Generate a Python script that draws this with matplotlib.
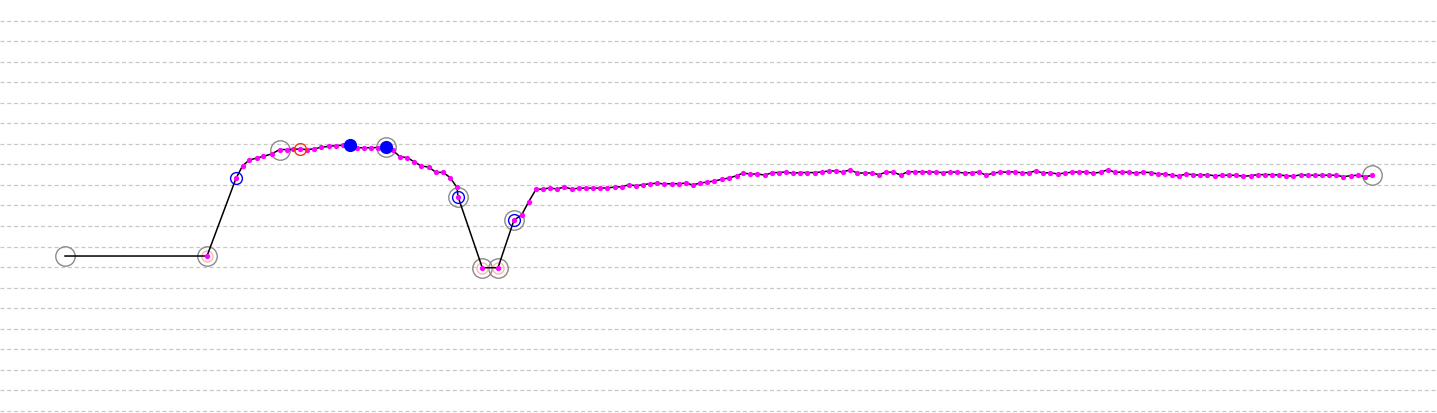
import numpy as np
import matplotlib
matplotlib.use("Agg")
import matplotlib.pyplot as plt

# distance along track and value (grid units)
dist = [65, 207, 236, 242.7, 249.3, 256.7, 263.3, 271.7, 279.5, 286.7,
        293.3, 299.5, 307.3, 314.3, 321.3, 328.7, 336, 343, 350, 357.3,
        364.3, 371.3, 378.3, 385.5, 392.7, 400, 407.3, 414, 421.3, 428.7,
        436, 443.3, 450, 457, 458, 482.3, 498, 514, 521.7, 528.5,
        536, 542.7, 550, 557, 564.3, 571.7, 579, 586, 593.3, 600,
        607.3, 614.7, 621.7, 629, 636, 643.3, 650, 657, 664.3, 671.7,
        679, 686, 692.7, 700, 707.3, 714.3, 721.7, 729.3, 736.7, 743.3,
        750, 757.3, 765, 772.3, 779, 785.7, 792.7, 800, 807.3, 814.7,
        822, 829, 836, 842.7, 850, 857.3, 864.7, 872, 878.7, 886,
        893.3, 900.7, 907.7, 915, 922, 929, 936, 942.7, 950, 957.3,
        964.7, 972, 979, 986, 993.3, 1000.3, 1007.7, 1015, 1022.3, 1029,
        1035.7, 1043, 1050.3, 1057.7, 1065, 1072, 1079, 1086, 1093.3, 1100.7,
        1108, 1114.7, 1122, 1129, 1136, 1143.3, 1150.7, 1158, 1165, 1172,
        1179, 1186, 1193.3, 1200.3, 1207.3, 1215, 1222, 1229, 1236, 1243.3,
        1250.7, 1257.7, 1264.7, 1272, 1279, 1286.3, 1293.3, 1300.7, 1307.7, 1314.7,
        1321.7, 1329, 1336.3, 1343.3, 1350.7, 1357.7, 1365, 1372]
value = [7.54, 7.54, 11.32, 11.94, 12.21, 12.31, 12.39, 12.51, 12.72, 12.72,
         12.73, 12.75, 12.72, 12.76, 12.83, 12.88, 12.91, 12.93, 12.94, 12.81,
         12.81, 12.81, 12.82, 12.85, 12.69, 12.37, 12.33, 12.13, 11.92, 11.87,
         11.61, 11.61, 11.36, 10.88, 10.43, 6.97, 6.97, 9.29, 9.54, 10.17,
         10.78, 10.80, 10.85, 10.80, 10.90, 10.80, 10.84, 10.85, 10.84, 10.85,
         10.85, 10.90, 10.91, 11.01, 10.96, 11.01, 11.06, 11.08, 11.05, 11.06,
         11.06, 11.09, 11.00, 11.09, 11.14, 11.19, 11.27, 11.34, 11.45, 11.58,
         11.53, 11.53, 11.48, 11.60, 11.60, 11.63, 11.57, 11.60, 11.60, 11.60,
         11.63, 11.68, 11.68, 11.63, 11.73, 11.58, 11.58, 11.58, 11.50, 11.62,
         11.62, 11.48, 11.64, 11.64, 11.63, 11.63, 11.62, 11.60, 11.63, 11.62,
         11.58, 11.60, 11.62, 11.48, 11.57, 11.63, 11.62, 11.64, 11.58, 11.60,
         11.68, 11.58, 11.60, 11.53, 11.58, 11.62, 11.63, 11.63, 11.57, 11.62,
         11.74, 11.62, 11.62, 11.62, 11.57, 11.62, 11.60, 11.53, 11.53, 11.47,
         11.44, 11.53, 11.50, 11.47, 11.50, 11.44, 11.47, 11.47, 11.47, 11.42,
         11.45, 11.50, 11.50, 11.50, 11.48, 11.45, 11.42, 11.50, 11.47, 11.47,
         11.47, 11.47, 11.47, 11.40, 11.45, 11.47, 11.40, 11.46]

# highlighted points (by distance)
gray_pts = [65, 207, 279.5, 385.5, 458, 482.3, 498, 514, 1372]
pink_pts = [207, 482.3, 498]
blue_ring_pts = [236, 458, 514]
red_ring_pts = [299.5]
blue_fill_pts = [350, 385.5]

dist = np.array(dist)
value = np.array(value)


def pick(pts):
    idx = [int(np.argmin(np.abs(dist - p))) for p in pts]
    return dist[idx], value[idx]


fig = plt.figure(figsize=(14.37, 4.13), dpi=100)
ax = fig.add_axes([0, 0, 1, 1])
ax.set_xlim(0, 1437)
ax.set_ylim(-0.1, 20.0)

# dashed horizontal grid
for g in range(0, 20):
    ax.axhline(g, color="#c8c8c8", lw=0.9, dashes=(3.2, 2.2), zorder=0)

gx, gy = pick(gray_pts)
ax.plot(gx, gy, "o", ms=14, mfc="none", mec="#8a8a8a", mew=1.0, zorder=1)
px, py = pick(pink_pts)
ax.plot(px, py, "o", ms=8, mfc="none", mec="#ffb4b4", mew=1.0, zorder=1)

ax.plot(dist, value, color="black", lw=1.1, zorder=2)
ax.plot(dist[1:], value[1:], "o", ms=3.8, color="#ff00ff", mew=0, zorder=3)

bx, by = pick(blue_ring_pts)
ax.plot(bx, by, "o", ms=8.5, mfc="none", mec="#0000ff", mew=1.0, zorder=4)
rx, ry = pick(red_ring_pts)
ax.plot(rx, ry, "o", ms=8.5, mfc="none", mec="#ff3010", mew=1.0, zorder=4)
fx, fy = pick(blue_fill_pts)
ax.plot(fx, fy, "o", ms=9.5, color="#0000ff", mew=0, zorder=5)

for s in ax.spines.values():
    s.set_visible(False)
ax.set_xticks([])
ax.set_yticks([])

fig.savefig("out.png", dpi=100, facecolor="white")
